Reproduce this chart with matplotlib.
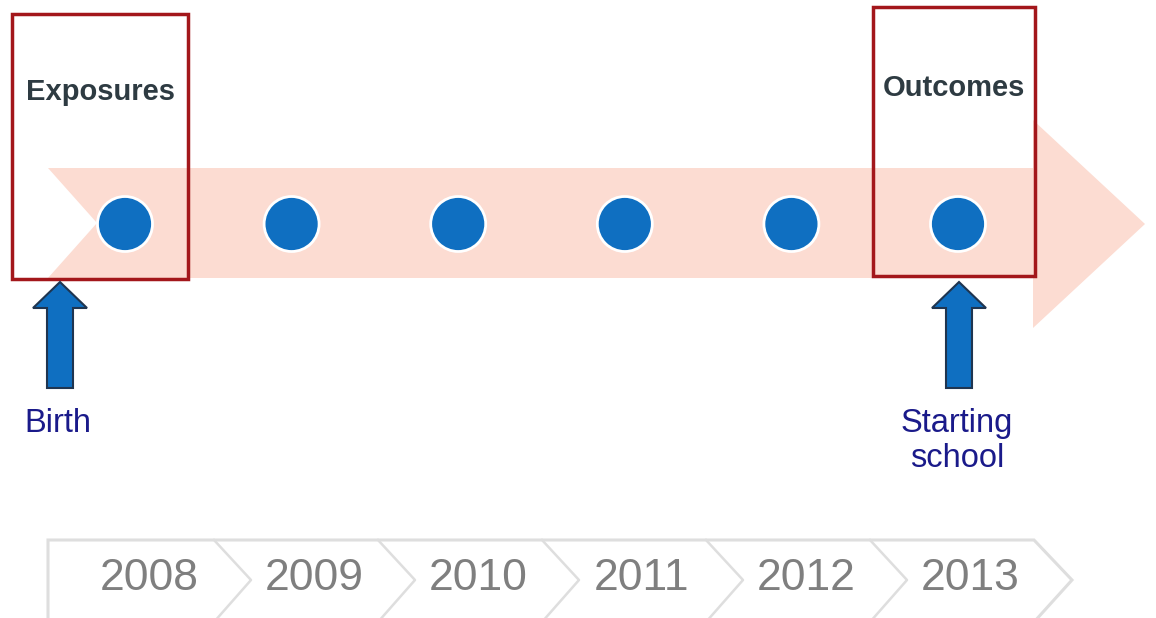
import matplotlib.pyplot as plt
from matplotlib.patches import Polygon, Circle, Rectangle

plt.rcParams['font.family'] = ['Liberation Sans', 'DejaVu Sans']

# datos del diagrama
years = ['2008', '2009', '2010', '2011', '2012', '2013']
box_labels = ['Exposures', 'Outcomes']
box_years = [0, 5]
milestone_labels = ['Birth', 'Starting\nschool']
milestone_years = [0, 5]

W, H = 1156, 618
fig = plt.figure(figsize=(W / 100, H / 100), dpi=100)
ax = fig.add_axes([0, 0, 1, 1])
ax.set_xlim(0, W)
ax.set_ylim(H, 0)
ax.axis('off')

blue = '#0f6fc1'
red = '#a3171b'
navy = '#1a1a8a'


def dot_x(i):
    return 125 + 166.6 * i


# flecha de fondo
band = [(48, 168), (1033, 168), (1033, 120), (1145, 224), (1033, 328),
        (1033, 278), (48, 278), (97, 223)]
ax.add_patch(Polygon(band, closed=True, facecolor='#fcdcd2', edgecolor='none', zorder=1))

# puntos de cada año
for i in range(len(years)):
    ax.add_patch(Circle((dot_x(i), 224), 27.5, facecolor=blue, edgecolor='white',
                        linewidth=2, zorder=3))

# cajas rojas
box_geom = {0: (12, 14, 176, 265), 5: (873, 7, 162, 269)}
box_text_y = {0: 92, 5: 88}
for lab, yi in zip(box_labels, box_years):
    x0, y0, w, h = box_geom[yi]
    ax.add_patch(Rectangle((x0, y0), w, h, facecolor='none', edgecolor=red,
                           linewidth=2.5, zorder=4))
    ax.text(x0 + w / 2, box_text_y[yi], lab, ha='center', va='center',
            fontsize=21, fontweight='bold', color='#2e3b42', zorder=5)

# flechas azules
arrow_x = {0: 60, 5: 959}
for lab, yi in zip(milestone_labels, milestone_years):
    x = arrow_x[yi]
    shape = [(x, 282), (x + 27, 308), (x + 13, 308), (x + 13, 388),
             (x - 13, 388), (x - 13, 308), (x - 27, 308)]
    ax.add_patch(Polygon(shape, closed=True, facecolor=blue, edgecolor='#1f3550',
                         linewidth=1.5, zorder=4))
    ax.text(x - 2, 408, lab, ha='center', va='top', fontsize=23.5,
            color=navy, linespacing=1.18)

# tira de años
gris = '#dedede'
top, mid, bot = 540, 580, 622
last = 214 + 164 * (len(years) - 1)
ax.plot([48, 48, last, last + 38, last], [bot, top, top, mid, bot],
        color=gris, linewidth=2.2, solid_joinstyle='miter', zorder=2)
for i in range(len(years) - 1):
    t = 214 + 164 * i
    ax.plot([t, t + 37, t], [top, mid, bot], color=gris, linewidth=1.8, zorder=2)

for i, yr in enumerate(years):
    left = 48 if i == 0 else 214 + 164 * (i - 1)
    right = 214 + 164 * i
    ax.text((left + right) / 2 + 18, 579, yr, ha='center', va='center',
            fontsize=32, color='#7f7f7f')

fig.savefig('out.png', dpi=100)
